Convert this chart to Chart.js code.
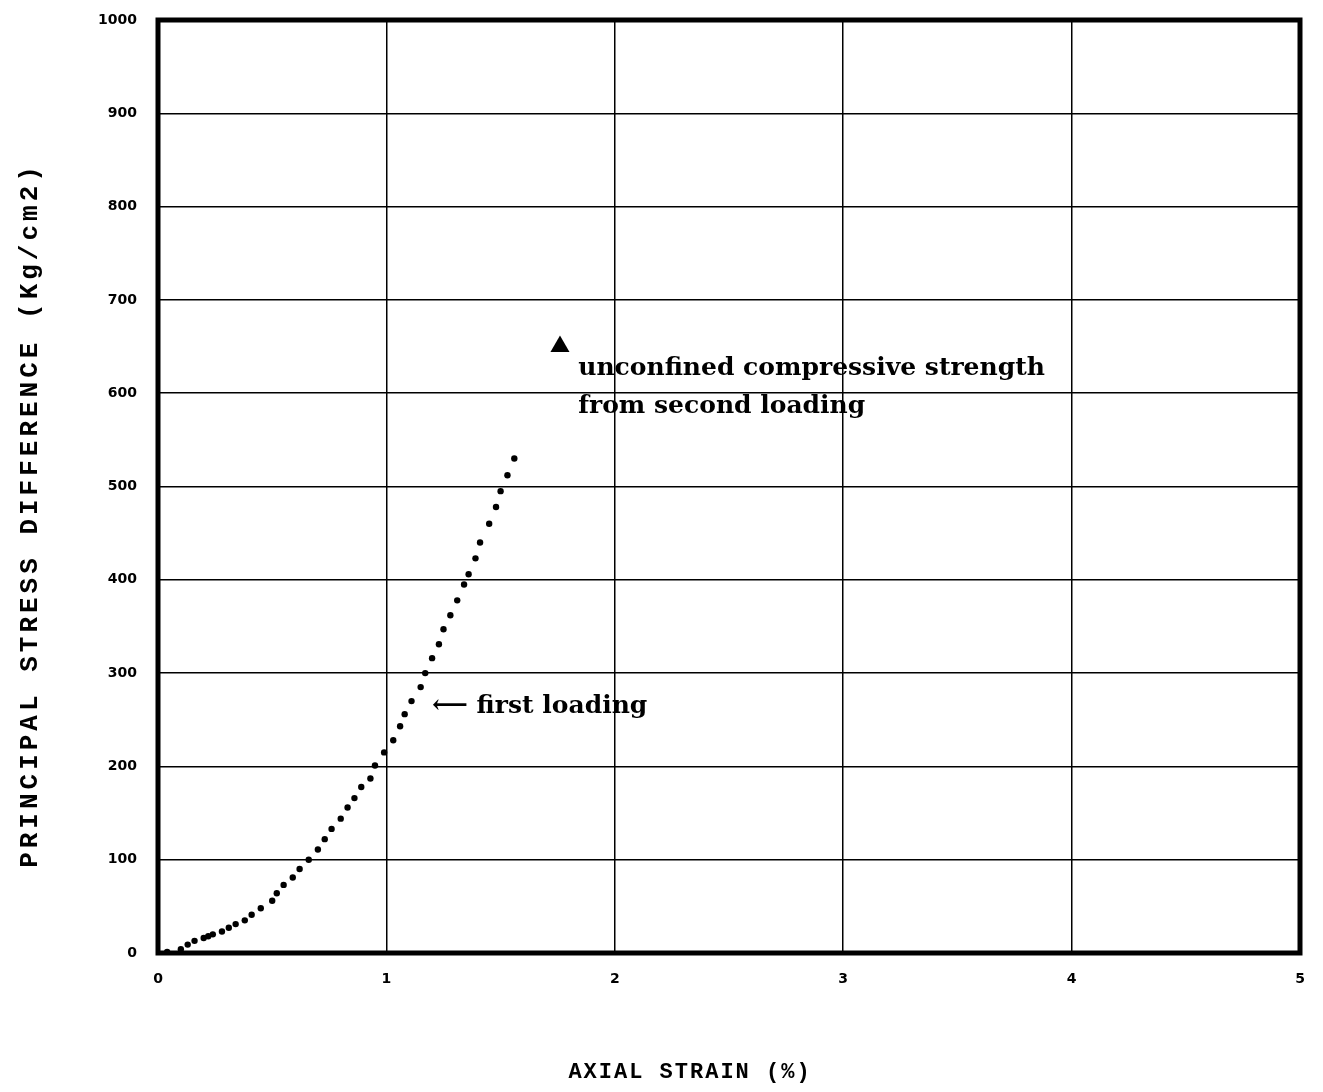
<!DOCTYPE html>
<html>
<head>
<meta charset="utf-8">
<script src="https://cdn.jsdelivr.net/npm/chart.js@4.4.1/dist/chart.umd.min.js"></script>
<style>
  body { margin: 0; background: #fff; }
  #wrap { width: 1323px; height: 1092px; }
</style>
</head>
<body>
<div id="wrap"><canvas id="stress-chart" width="1323" height="1092"></canvas></div>
<script>
// first loading curve (axial strain %, stress Kg/cm2)
const strainFirst = [0.04, 0.10, 0.13, 0.16, 0.20, 0.22, 0.24, 0.28, 0.31, 0.34,
                     0.38, 0.41, 0.45, 0.50, 0.52, 0.55, 0.59, 0.62, 0.66, 0.70,
                     0.73, 0.76, 0.80, 0.83, 0.86, 0.89, 0.93, 0.95, 0.99, 1.03,
                     1.06, 1.08, 1.11, 1.15, 1.17, 1.20, 1.23, 1.25, 1.28, 1.31,
                     1.34, 1.36, 1.39, 1.41, 1.45, 1.48, 1.50, 1.53, 1.56];
const stressFirst = [1, 4, 9, 13, 16, 18, 20, 23, 27, 31,
                     35, 41, 48, 56, 64, 73, 81, 90, 100, 111,
                     122, 133, 144, 156, 166, 178, 187, 201, 215, 228,
                     243, 256, 270, 285, 300, 316, 331, 347, 362, 378,
                     395, 406, 423, 440, 460, 478, 495, 512, 530];

// unconfined compressive strength from the second loading
const strainSecond = [1.76];
const stressSecond = [650];

const xTicks = [0, 1, 2, 3, 4, 5];
const yTicks = [0, 100, 200, 300, 400, 500, 600, 700, 800, 900, 1000];

const xTitle = 'AXIAL STRAIN (%)';
const yTitle = 'PRINCIPAL STRESS DIFFERENCE (Kg/cm2)';
const noteStrength = ['unconfined compressive strength', 'from second loading'];
const noteFirst = '\u27F5 first loading';

const toPoints = (xs, ys) => xs.map((x, i) => ({x: x, y: ys[i]}));

// frame, axis titles and the two notes
const decor = {
  id: 'decor',
  afterDraw(chart) {
    const ctx = chart.ctx;
    const a = chart.chartArea;
    const xs = chart.scales.x, ys = chart.scales.y;
    ctx.save();
    ctx.strokeStyle = '#000';
    ctx.lineWidth = 5;
    ctx.strokeRect(a.left, a.top, a.right - a.left, a.bottom - a.top);

    ctx.fillStyle = '#000';
    ctx.textBaseline = 'middle';

    // notes
    ctx.font = 'bold 25px "DejaVu Serif"';
    ctx.textAlign = 'left';
    ctx.fillText(noteStrength[0], xs.getPixelForValue(1.84), ys.getPixelForValue(627));
    ctx.fillText(noteStrength[1], xs.getPixelForValue(1.84), ys.getPixelForValue(586));
    ctx.fillText(noteFirst, xs.getPixelForValue(1.20), ys.getPixelForValue(264));

    // axis titles, typewriter look
    ctx.font = 'bold 22px "Liberation Mono"';
    ctx.letterSpacing = '2px';
    ctx.textAlign = 'center';
    ctx.fillText(xTitle, 690, 1072);

    ctx.font = 'bold 26px "Liberation Mono"';
    ctx.letterSpacing = '4px';
    ctx.translate(30, 515);
    ctx.rotate(-Math.PI / 2);
    ctx.fillText(yTitle, 0, 0);
    ctx.restore();
  }
};

const ctx = document.getElementById('stress-chart').getContext('2d');
const stressChart = new Chart(ctx, {
  type: 'scatter',
  data: {
    datasets: [{
      label: 'first loading',
      data: toPoints(strainFirst, stressFirst),
      pointStyle: 'circle',
      radius: 3.2,
      backgroundColor: '#000',
      borderWidth: 0,
    }, {
      label: 'second loading',
      data: toPoints(strainSecond, stressSecond),
      pointStyle: 'triangle',
      radius: 11,
      backgroundColor: '#000',
      borderColor: '#000',
      borderWidth: 0,
    }]
  },
  options: {
    responsive: false,
    animation: false,
    layout: {
      padding: { left: 0, right: 23, top: 20, bottom: 0 }
    },
    plugins: {
      legend: { display: false },
      tooltip: { enabled: false },
    },
    scales: {
      x: {
        type: 'linear',
        min: 0,
        max: 5,
        afterBuildTicks: (s) => { s.ticks = xTicks.map(v => ({value: v})); },
        afterFit: (s) => { s.height = 139; },
        border: { display: false },
        grid: { color: '#000', lineWidth: 1.5, drawTicks: false },
        ticks: {
          padding: 18,
          color: '#000',
          maxRotation: 0,
          callback: (v) => String(v),
          font: { family: 'DejaVu Sans', size: 14, weight: 'bold' },
        }
      },
      y: {
        type: 'linear',
        min: 0,
        max: 1000,
        afterBuildTicks: (s) => { s.ticks = yTicks.map(v => ({value: v})); },
        afterFit: (s) => { s.width = 158; s.paddingTop = 0; s.paddingBottom = 0; },
        border: { display: false },
        grid: { color: '#000', lineWidth: 1.5, drawTicks: false },
        ticks: {
          padding: 21,
          color: '#000',
          callback: (v) => String(v),
          font: { family: 'DejaVu Sans', size: 14, weight: 'bold' },
        }
      }
    }
  },
  plugins: [decor]
});
</script>
</body>
</html>
